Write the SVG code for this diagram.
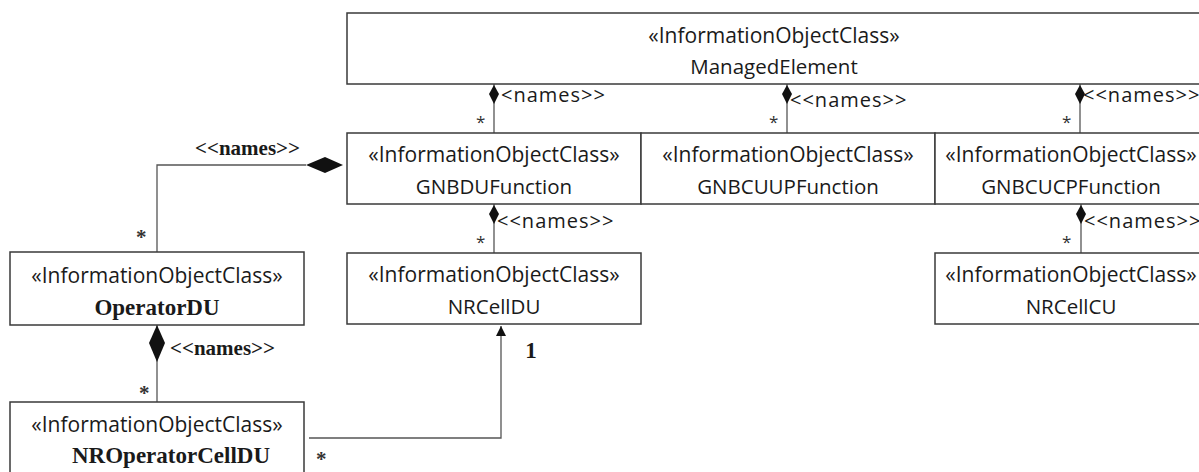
<svg xmlns="http://www.w3.org/2000/svg" width="1199" height="472" viewBox="0 0 1199 472">
<style>
.box{fill:#fff;stroke:#3a3a3a;stroke-width:1.5}
.st{font-family:"Open Sans","Noto Sans",sans-serif;font-size:21px;fill:#1a1a1a;text-anchor:middle}
.nm{font-family:"Open Sans","Noto Sans",sans-serif;font-size:20.5px;fill:#1a1a1a;text-anchor:middle}
.bn{font-family:"Liberation Serif",serif;font-weight:bold;font-size:23px;fill:#1a1a1a;text-anchor:middle}
.lbl{font-family:"Open Sans","Noto Sans",sans-serif;font-size:20px;fill:#1a1a1a;letter-spacing:1px}
.blbl{font-family:"Liberation Serif",serif;font-weight:bold;font-size:21px;fill:#1a1a1a}
.star{font-family:"Open Sans","Noto Sans",sans-serif;font-size:17px;fill:#333}
.bstar{font-family:"Liberation Serif",serif;font-weight:bold;font-size:21px;fill:#333}
.ln{fill:none;stroke:#555;stroke-width:1.3}
.dm{fill:#111;stroke:none}
</style>
<defs>
<marker id="arr" viewBox="0 0 10 10" refX="10" refY="5" markerWidth="10" markerHeight="10" markerUnits="userSpaceOnUse" orient="auto">
<path d="M0,0 L10,5 L0,10 z" fill="#111"/>
</marker>
</defs>

<g id="connectors">
<line class="ln" x1="494" y1="84" x2="494" y2="133"/>
<path class="dm" d="M494,85 L499,94 L494,104 L489,94 z"/>
<line class="ln" x1="787" y1="84" x2="787" y2="133"/>
<path class="dm" d="M787,85 L792,94 L787,104 L782,94 z"/>
<line class="ln" x1="1080" y1="84" x2="1080" y2="133"/>
<path class="dm" d="M1080,85 L1085,94 L1080,104 L1075,94 z"/>
<line class="ln" x1="494" y1="204" x2="494" y2="253"/>
<path class="dm" d="M494,205 L499,214 L494,224 L489,214 z"/>
<line class="ln" x1="1081" y1="204" x2="1081" y2="253"/>
<path class="dm" d="M1081,205 L1086,214 L1081,224 L1076,214 z"/>
<polyline class="ln" points="306,165 157,165 157,252"/>
<path class="dm" d="M343,165 L325,173 L306,165 L325,157 z"/>
<line class="ln" x1="157" y1="325" x2="157" y2="402"/>
<path class="dm" d="M157,325 L165,343 L157,362 L149,343 z"/>
<polyline class="ln" points="309,438 501,438 501,326" marker-end="url(#arr)"/>

<text class="lbl" x="501" y="102">&lt;names&gt;&gt;</text>
<text class="lbl" x="790" y="107">&lt;&lt;names&gt;&gt;</text>
<text class="lbl" x="1083" y="102">&lt;&lt;names&gt;&gt;</text>
<text class="lbl" x="497" y="228">&lt;&lt;names&gt;&gt;</text>
<text class="lbl" x="1084" y="228">&lt;&lt;names&gt;&gt;</text>
<text class="blbl" x="195" y="155">&lt;&lt;names&gt;&gt;</text>
<text class="blbl" x="170" y="355">&lt;&lt;names&gt;&gt;</text>

<text class="star" x="476" y="128">*</text>
<text class="star" x="769" y="128">*</text>
<text class="star" x="1062" y="128">*</text>
<text class="star" x="476" y="248">*</text>
<text class="star" x="1062" y="248">*</text>
<text class="bstar" x="136" y="244">*</text>
<text class="bstar" x="139" y="400">*</text>
<text class="bstar" x="316" y="466">*</text>
<text class="bn" x="531" y="358">1</text>
</g>

<g id="ManagedElement">
<rect class="box" x="347" y="13" width="860" height="71"/>
<text class="st" x="774" y="43">«InformationObjectClass»</text>
<text class="nm" x="774" y="74">ManagedElement</text>
</g>
<g id="GNBDUFunction">
<rect class="box" x="347" y="133" width="294" height="71"/>
<text class="st" x="494" y="162">«InformationObjectClass»</text>
<text class="nm" x="494" y="194">GNBDUFunction</text>
</g>
<g id="GNBCUUPFunction">
<rect class="box" x="641" y="133" width="294" height="71"/>
<text class="st" x="788" y="162">«InformationObjectClass»</text>
<text class="nm" x="788" y="194">GNBCUUPFunction</text>
</g>
<g id="GNBCUCPFunction">
<rect class="box" x="935" y="133" width="272" height="71"/>
<text class="st" x="1071" y="162">«InformationObjectClass»</text>
<text class="nm" x="1071" y="194">GNBCUCPFunction</text>
</g>
<g id="NRCellDU">
<rect class="box" x="347" y="253" width="294" height="71"/>
<text class="st" x="494" y="282">«InformationObjectClass»</text>
<text class="nm" x="494" y="314">NRCellDU</text>
</g>
<g id="NRCellCU">
<rect class="box" x="935" y="253" width="272" height="71"/>
<text class="st" x="1071" y="282">«InformationObjectClass»</text>
<text class="nm" x="1071" y="314">NRCellCU</text>
</g>
<g id="OperatorDU">
<rect class="box" x="10" y="252" width="294" height="73"/>
<text class="st" x="157" y="283">«InformationObjectClass»</text>
<text class="bn" x="157" y="315">OperatorDU</text>
</g>
<g id="NROperatorCellDU">
<rect class="box" x="10" y="402" width="294" height="76"/>
<text class="st" x="157" y="432">«InformationObjectClass»</text>
<text class="bn" x="171" y="463">NROperatorCellDU</text>
</g>
</svg>
